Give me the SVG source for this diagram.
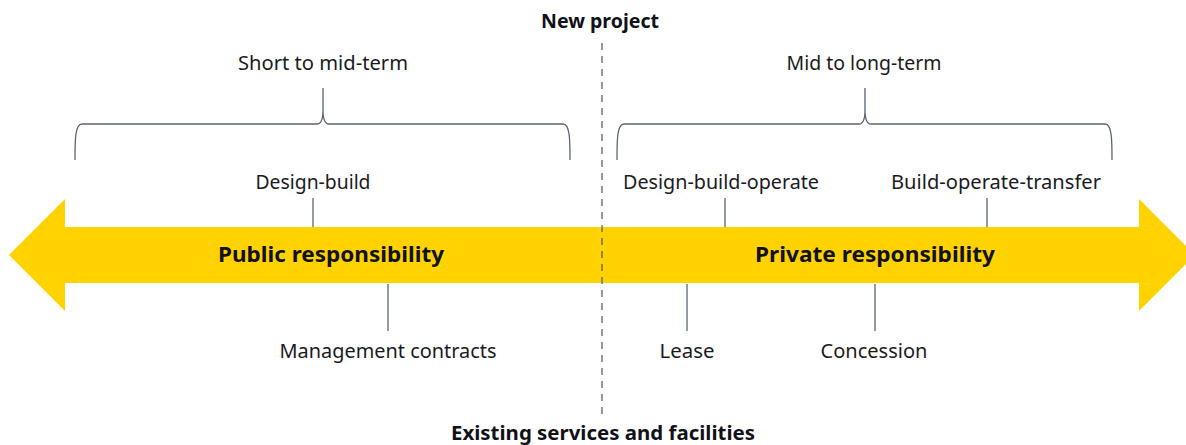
<svg xmlns="http://www.w3.org/2000/svg" width="1186" height="445" viewBox="0 0 1186 445">
  <style>
    .lbl { font-family: "Noto Sans", "Open Sans", "Liberation Sans", sans-serif; font-size: 20px; fill: #1a1a22; text-anchor: middle; }
    .bold { font-family: "Noto Sans", "Open Sans", "Liberation Sans", sans-serif; font-weight: bold; fill: #111118; text-anchor: middle; }
    .conn { stroke: #5a6472; stroke-width: 1.3; fill: none; }
    .dash { stroke: #4a5565; stroke-width: 1.2; stroke-dasharray: 7 6; fill: none; }
  </style>
  <rect width="1186" height="445" fill="#ffffff"/>

  <g id="arrow">
    <polygon points="9,255 65,199 65,227 1139,227 1139,199 1195,255 1139,311 1139,283 65,283 65,311" fill="#FFD200"/>
  </g>

  <g id="connectors">
    <line class="dash" x1="602" y1="43" x2="602" y2="419"/>
    <path class="conn" d="M75,160 C75,140 75,124 82,124 L317,124 C321,124 323,120 323,110 L323,88 M323,110 C323,120 325,124 329,124 L563,124 C570,124 570,140 570,160"/>
    <path class="conn" d="M617,160 C617,140 617,124 624,124 L859,124 C863,124 865,120 865,110 L865,88 M865,110 C865,120 867,124 871,124 L1105,124 C1112,124 1112,140 1112,160"/>
    <line class="conn" x1="313" y1="198" x2="313" y2="227"/>
    <line class="conn" x1="725" y1="198" x2="725" y2="227"/>
    <line class="conn" x1="987" y1="198" x2="987" y2="227"/>
    <line class="conn" x1="388" y1="284" x2="388" y2="331"/>
    <line class="conn" x1="687" y1="284" x2="687" y2="331"/>
    <line class="conn" x1="875" y1="284" x2="875" y2="331"/>
  </g>

  <g id="new-project"><text class="bold" x="600" y="28" font-size="19" textLength="118" lengthAdjust="spacingAndGlyphs">New project</text></g>
  <g id="existing"><text class="bold" x="603" y="440" font-size="19" textLength="304" lengthAdjust="spacingAndGlyphs">Existing services and facilities</text></g>
  <g id="short-mid"><text class="lbl" x="323" y="70" textLength="170" lengthAdjust="spacingAndGlyphs">Short to mid-term</text></g>
  <g id="mid-long"><text class="lbl" x="864" y="70" textLength="155" lengthAdjust="spacingAndGlyphs">Mid to long-term</text></g>
  <g id="design-build"><text class="lbl" x="313" y="189" textLength="115" lengthAdjust="spacingAndGlyphs">Design-build</text></g>
  <g id="dbo"><text class="lbl" x="721" y="189" textLength="196" lengthAdjust="spacingAndGlyphs">Design-build-operate</text></g>
  <g id="bot"><text class="lbl" x="996" y="189" textLength="210" lengthAdjust="spacingAndGlyphs">Build-operate-transfer</text></g>
  <g id="public"><text class="bold" x="331" y="262" font-size="22" textLength="226" lengthAdjust="spacingAndGlyphs">Public responsibility</text></g>
  <g id="private"><text class="bold" x="875" y="262" font-size="22" textLength="240" lengthAdjust="spacingAndGlyphs">Private responsibility</text></g>
  <g id="management"><text class="lbl" x="388" y="358" textLength="217" lengthAdjust="spacingAndGlyphs">Management contracts</text></g>
  <g id="lease"><text class="lbl" x="687" y="358" textLength="55" lengthAdjust="spacingAndGlyphs">Lease</text></g>
  <g id="concession"><text class="lbl" x="874" y="358" textLength="107" lengthAdjust="spacingAndGlyphs">Concession</text></g>
</svg>
